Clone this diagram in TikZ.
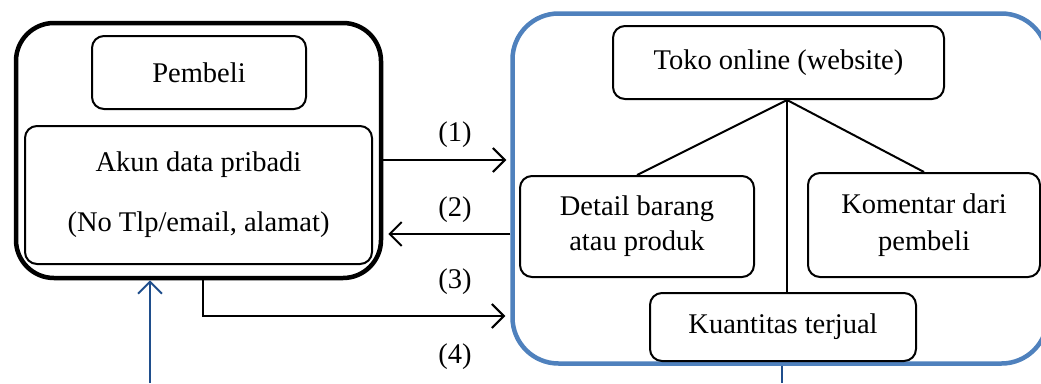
\documentclass[tikz,border=0pt]{standalone}
\usepackage{fontspec}
\setmainfont{Liberation Serif}
\usepackage{xcolor}
\usetikzlibrary{positioning,arrows.meta}
\definecolor{garisbiru}{RGB}{79,129,189}
\definecolor{panahbiru}{RGB}{31,78,140}

\begin{document}
\begin{tikzpicture}[x=1pt,y=-1pt,
  kotak/.style={draw,line width=2pt,rounded corners=12pt,fill=white},
  luar/.style={draw,line width=4.5pt,rounded corners=38pt},
  luarbiru/.style={draw=garisbiru,line width=4.5pt,rounded corners=46pt},
  panah/.style={line width=2pt,-{Straight Barb[length=12pt,width=24pt,line width=2pt]}},
  garis/.style={line width=2pt}]
\tikzstyle{every node}+=[inner sep=0pt,align=center,font=\fontsize{28.5}{35}\selectfont]
\useasboundingbox (0,0) rectangle (1041,383);
\node [luar,minimum width=365pt,minimum height=255pt] (pembeliluar) at (198.5,150.5) {};
\node [luarbiru,minimum width=535pt,minimum height=350pt] (tokoluar) at (780,188.5) {};
\node [kotak,minimum width=214pt,minimum height=73pt] (pembeli) at (199,72.5) {Pembeli};
\node [kotak,minimum width=347pt,minimum height=138pt] (akun) at (198.5,195) {Akun data pribadi\\[25pt](No Tlp/email, alamat)};
\node [kotak,minimum width=331pt,minimum height=73pt] (toko) at (778.5,62.5) {Toko online (website)};
\node [kotak,minimum width=234pt,minimum height=101pt] (detail) at (637,226.5) {Detail barang\\atau produk};
\node [kotak,minimum width=232pt,minimum height=104pt] (komentar) at (924,225) {Komentar dari\\[2pt]pembeli};
\coordinate (cabang) at ([xshift=8.5pt]toko.south);
\draw [garis] (cabang) -- (detail.north);
\draw [garis] (cabang) -- (komentar.north);
\node [kotak,minimum width=266pt,minimum height=68pt] (kuantitas) at (783,327) {Kuantitas terjual};
\draw [garis] (cabang) -- (cabang |- kuantitas.north);
\draw [panah,shorten >=4pt] (pembeliluar.east |- 0,160) -- (tokoluar.west |- 0,160);
\draw [panah,shorten >=5pt] (tokoluar.west |- 0,234) -- (pembeliluar.east |- 0,234);
\coordinate (belok) at (203,316);
\draw [panah,shorten >=5pt] (belok |- pembeliluar.south) -- (belok) -- (tokoluar.west |- belok);
\coordinate (bawahkiri) at (150,383);
\draw [panah,draw=panahbiru,line width=2.5pt] (bawahkiri) -- (bawahkiri |- pembeliluar.south);
\coordinate (bawahkanan) at (782,383);
\draw [garis,draw=panahbiru,line width=2.5pt] (bawahkanan |- tokoluar.south) -- (bawahkanan);
\node (label1) at (455,135) {(1)};
\node (label2) at (455,210) {(2)};
\node (label3) at (455,282) {(3)};
\node (label4) at (455,357) {(4)};
\end{tikzpicture}
\end{document}
